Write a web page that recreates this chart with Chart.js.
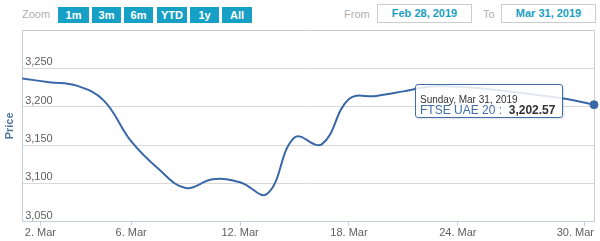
<!DOCTYPE html>
<html lang="en">
<head>
<meta charset="UTF-8">
<title>FTSE UAE 20</title>
<script src="https://cdn.jsdelivr.net/npm/chart.js@4.4.0/dist/chart.umd.min.js"></script>
<style>
    html, body { margin: 0; padding: 0; background: #fff; }
    body {
        width: 600px; height: 241px; position: relative; overflow: hidden;
        font-family: "Liberation Sans", Arial, sans-serif;
    }
    #chart { position: absolute; left: 0; top: 0; }
    .zoom-label { position: absolute; left: 22px; top: 8px; font-size: 11px; color: #b0b0b0; }
    .range-btn {
        position: absolute; top: 7px; height: 16px; line-height: 16px;
        background: #17a0c6; color: #fff; font-size: 11px; font-weight: bold; text-align: center;
    }
    .date-label { position: absolute; top: 8px; font-size: 11px; color: #b0b0b0; }
    .date-box {
        position: absolute; top: 4px; width: 95px; height: 19px; box-sizing: border-box;
        border: 1px solid #cccccc; background: #fff; text-align: center;
        font-size: 11px; line-height: 17px; font-weight: bold; color: #1a9ec4;
    }
    #tip {
        position: absolute; display: none; width: 148px; height: 34px; box-sizing: border-box;
        border: 1px solid #3f6cab; border-radius: 3px; background: rgba(255, 255, 255, 0.85);
        box-shadow: 1px 1px 2px rgba(0, 0, 0, 0.12);
    }
    #tip .tip-date { position: absolute; left: 4px; top: 9px; font-size: 10px; line-height: 11px; color: #333; white-space: nowrap; }
    #tip .tip-row { position: absolute; left: 4px; top: 19px; font-size: 12px; line-height: 13px; white-space: nowrap; }
    #tip .tip-name { color: #3f6cab; }
    #tip .tip-val { color: #333; font-weight: bold; }
</style>
</head>
<body>
    <div class="zoom-label">Zoom</div>
    <div class="range-btn" style="left:58px;width:31px">1m</div>
    <div class="range-btn" style="left:92px;width:29px">3m</div>
    <div class="range-btn" style="left:124px;width:29px">6m</div>
    <div class="range-btn" style="left:157px;width:30px">YTD</div>
    <div class="range-btn" style="left:190px;width:29px">1y</div>
    <div class="range-btn" style="left:222px;width:30px">All</div>
    <div class="date-label" style="left:344px">From</div>
    <div class="date-box" style="left:377px">Feb 28, 2019</div>
    <div class="date-label" style="left:483px">To</div>
    <div class="date-box" style="left:501px">Mar 31, 2019</div>

    <canvas id="chart" width="600" height="241"></canvas>
    <div id="tip"><div class="tip-date"></div><div class="tip-row"><span class="tip-name"></span><span class="tip-val"></span></div></div>

<script>
    // trading days (ordinal axis: weekends are skipped)
    const dates = ['2019-02-28', '2019-03-03', '2019-03-04', '2019-03-05', '2019-03-06', '2019-03-07',
        '2019-03-10', '2019-03-11', '2019-03-12', '2019-03-13', '2019-03-14',
        '2019-03-17', '2019-03-18', '2019-03-19', '2019-03-20', '2019-03-21',
        '2019-03-24', '2019-03-25', '2019-03-26', '2019-03-27', '2019-03-28', '2019-03-31'];
    const prices = [3236.7, 3232, 3227.5, 3208, 3155, 3119,
        3094, 3105.5, 3101.5, 3086.5, 3160,
        3151, 3210, 3214, 3220, 3226.5,
        3226, 3223.5, 3219.5, 3215, 3210, 3202.57];
    const seriesName = 'FTSE UAE 20';

    // x ticks sit between trading days where the date is a weekend
    const tickPositions = [0.667, 4, 8, 12, 16, 20.667];
    const tickLabels = ['2. Mar', '6. Mar', '12. Mar', '18. Mar', '24. Mar', '30. Mar'];
    const yTicks = [3050, 3100, 3150, 3200, 3250];
    const yMin = 3050, yMax = 3300;

    const lineColor = '#3a67a8';
    const axisColor = '#c0d0e0';
    const lastIndex = prices.length - 1;

    function longDate(s) {
        return new Date(s + 'T00:00:00Z').toLocaleDateString('en-US', {
            weekday: 'long', month: 'short', day: 'numeric', year: 'numeric', timeZone: 'UTC'
        });
    }

    function externalTooltip(context) {
        const tip = context.tooltip;
        const el = document.getElementById('tip');
        if (tip.opacity === 0 || !tip.dataPoints || !tip.dataPoints.length) {
            el.style.display = 'none';
            return;
        }
        const p = tip.dataPoints[0];
        el.querySelector('.tip-date').textContent = tip.title[0];
        el.querySelector('.tip-name').textContent = p.dataset.label + ' :\u00a0 ';
        el.querySelector('.tip-val').textContent = p.parsed.y.toLocaleString('en-US', {
            minimumFractionDigits: 2, maximumFractionDigits: 2
        });
        el.style.left = (tip.caretX - 179) + 'px';
        el.style.top = (tip.caretY - 21) + 'px';
        el.style.display = 'block';
    }

    // top and right edge of the plot box
    const plotFrame = {
        id: 'plotFrame',
        beforeDatasetsDraw(chart) {
            const { ctx, chartArea: a } = chart;
            ctx.save();
            ctx.strokeStyle = '#cccccc';
            ctx.lineWidth = 1;
            ctx.beginPath();
            ctx.moveTo(Math.round(a.left), Math.round(a.top) + 0.5);
            ctx.lineTo(Math.round(a.right) + 0.5, Math.round(a.top) + 0.5);
            ctx.lineTo(Math.round(a.right) + 0.5, Math.round(a.bottom));
            ctx.stroke();
            ctx.restore();
        }
    };

    // keep the last x label inside the plot, like the original does
    const edgeLabel = {
        id: 'edgeLabel',
        beforeDraw(chart) {
            const s = chart.scales.x;
            const items = s.getLabelItems();
            const last = items[items.length - 1];
            if (last) {
                last.options.textAlign = 'right';
                last.options.translation[0] = chart.chartArea.right;
            }
        }
    };

    const chart = new Chart(document.getElementById('chart'), {
        type: 'line',
        data: {
            datasets: [{
                label: seriesName,
                data: prices.map((v, i) => ({ x: i, y: v })),
                borderColor: lineColor,
                backgroundColor: lineColor,
                borderWidth: 2,
                tension: 0.4,
                pointRadius: ctx => ctx.index === lastIndex ? 4 : 0,
                pointBorderWidth: 1,
                pointHoverRadius: 4,
                clip: false,
                fill: false
            }]
        },
        options: {
            responsive: false,
            animation: false,
            events: [],
            layout: { padding: { top: 30, right: 6, bottom: 0, left: 1 } },
            plugins: {
                legend: { display: false },
                tooltip: {
                    enabled: false,
                    external: externalTooltip,
                    callbacks: { title: items => longDate(dates[items[0].dataIndex]) }
                }
            },
            scales: {
                x: {
                    type: 'linear',
                    min: 0,
                    max: lastIndex,
                    afterBuildTicks: s => { s.ticks = tickPositions.map(v => ({ value: v })); },
                    afterFit: s => { s.paddingLeft = 0; s.paddingRight = 0; },
                    ticks: {
                        autoSkip: false,
                        maxRotation: 0,
                        padding: 1,
                        color: '#606060',
                        font: { family: '"Liberation Sans", Arial, sans-serif', size: 11 },
                        callback: (v, i) => tickLabels[i]
                    },
                    grid: { drawOnChartArea: false, drawTicks: true, tickLength: 4, color: axisColor },
                    border: { color: axisColor }
                },
                y: {
                    type: 'linear',
                    min: yMin,
                    max: yMax,
                    afterBuildTicks: s => { s.ticks = yTicks.map(v => ({ value: v })); },
                    ticks: {
                        mirror: true,
                        padding: 3,
                        labelOffset: -6,
                        color: '#606060',
                        font: { family: '"Liberation Sans", Arial, sans-serif', size: 11 },
                        callback: v => v.toLocaleString('en-US')
                    },
                    grid: { color: '#d8d8d8', drawTicks: false },
                    border: { color: axisColor },
                    title: {
                        display: true,
                        text: 'Price',
                        color: '#4d759e',
                        padding: { top: 2, bottom: 0 },
                        font: { family: '"Liberation Sans", Arial, sans-serif', size: 11, weight: 'bold' }
                    }
                }
            }
        },
        plugins: [plotFrame, edgeLabel]
    });

    // show the hover label on the last point, as in the screenshot
    chart.tooltip.setActiveElements([{ datasetIndex: 0, index: lastIndex }], { x: 0, y: 0 });
    chart.update();
</script>
</body>
</html>
